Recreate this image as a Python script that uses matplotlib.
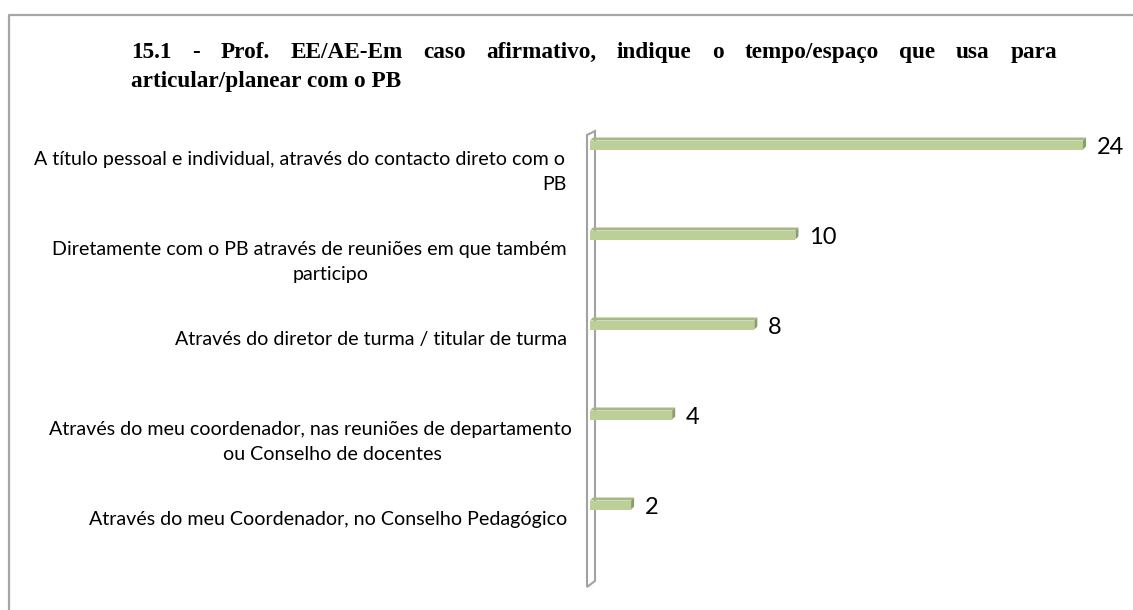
import matplotlib.pyplot as plt
from matplotlib.patches import Polygon
from matplotlib.lines import Line2D

# dados
categorias = [
    ["A título pessoal e individual, através do contacto direto com o", "PB"],
    ["Diretamente com o PB através de reuniões em que também", "participo"],
    ["Através do diretor de turma / titular de turma"],
    ["Através do meu coordenador, nas reuniões de departamento", "ou Conselho de docentes"],
    ["Através do meu Coordenador, no Conselho Pedagógico"],
]
valores = [24, 10, 8, 4, 2]
titulo = ["15.1 - Prof. EE/AE-Em caso afirmativo, indique o tempo/espaço que usa para",
          "articular/planear com o PB"]

W, H = 1133, 610
fig = plt.figure(figsize=(W / 100, H / 100), dpi=100)
fig.patch.set_facecolor("white")
renderer = fig.canvas.get_renderer()

def fx(px):
    return px / W

def fy(py):
    return 1 - py / H

# moldura (so topo e esquerda ficam visiveis)
fig.add_artist(Line2D([fx(9), fx(9), fx(W + 5)], [fy(H + 5), fy(15), fy(15)],
                      transform=fig.transFigure, color="#a6a6a6", lw=1.6))

# eixo: x de 590 a 1083 px, categorias a cada 90 px a partir de 145 px
ax = fig.add_axes([fx(590), fy(586), fx(1083) - fx(590), fy(131) - fy(586)])
vmax = max(valores)
ax.set_xlim(0, vmax)
ax.set_ylim((586 - 145) / 90, (131 - 145) / 90)
ax.axis("off")

px_x = vmax / (1083 - 590)   # unidades de valor por pixel
px_y = 1 / 90                # unidades de categoria por pixel

# parede 3D
parede = Polygon([(-3 * px_x, -10 * px_y), (5 * px_x, -14 * px_y),
                  (5 * px_x, 436 * px_y), (-3 * px_x, 442 * px_y)],
                 closed=True, facecolor="white", edgecolor="#a2a2a2", lw=1.5,
                 clip_on=False, zorder=2)
ax.add_patch(parede)

# barras 3D
pos = list(range(len(valores)))
h = 9 * px_y
dx, dy = 3 * px_x, 3 * px_y
ax.barh(pos, valores, height=h, color="#bccf97", edgecolor="none", zorder=3)
for i, v in zip(pos, valores):
    topo = Polygon([(0, i - h / 2), (v, i - h / 2), (v + dx, i - h / 2 - dy), (dx, i - h / 2 - dy)],
                   closed=True, facecolor="#a6b985", edgecolor="none", zorder=3, clip_on=False)
    lado = Polygon([(v, i - h / 2), (v + dx, i - h / 2 - dy), (v + dx, i + h / 2 - dy), (v, i + h / 2)],
                   closed=True, facecolor="#8c9d6a", edgecolor="none", zorder=3, clip_on=False)
    ax.add_patch(topo)
    ax.add_patch(lado)
    ax.annotate(str(v), xy=(v, i), xytext=(14, -2), textcoords="offset pixels",
                ha="left", va="center", fontsize=17, family="Lato", color="black")

# tamanho da fonte das categorias
ref = fig.text(0, 0, categorias[0][0], fontsize=10, family="Lato")
fs_cat = 10 * 531 / ref.get_window_extent(renderer).width
ref.remove()

centros_l2 = {0: 554, 1: 331, 3: 332}
direita = [565, 567, 567, 572, 567]
for i, linhas in enumerate(categorias):
    ax.annotate(linhas[0], xy=(0, i), xytext=(direita[i] - 590, -14),
                textcoords="offset pixels", ha="right", va="center",
                fontsize=fs_cat, family="Lato", color="black", annotation_clip=False)
    if len(linhas) > 1:
        ax.annotate(linhas[1], xy=(0, i), xytext=(centros_l2[i] - 590, -39),
                    textcoords="offset pixels", ha="center", va="center",
                    fontsize=fs_cat, family="Lato", color="black", annotation_clip=False)

# titulo justificado
tfont = dict(family="Liberation Serif", weight="bold", color="black")
ref = fig.text(0, 0, titulo[1], fontsize=12, **tfont)
fs_tit = 12 * 268 / ref.get_window_extent(renderer).width
ref.remove()

palavras = titulo[0].split(" ")
larguras = []
for p in palavras:
    t = fig.text(0, 0, p, fontsize=fs_tit, **tfont)
    larguras.append(t.get_window_extent(renderer).width)
    t.remove()
esq, dir_ = 131, 1057
gap = (dir_ - esq - sum(larguras)) / (len(palavras) - 1)
x = esq
for p, w in zip(palavras, larguras):
    fig.text(fx(x), fy(58), p, fontsize=fs_tit, va="baseline", ha="left", **tfont)
    x += w + gap
fig.text(fx(131), fy(87), titulo[1], fontsize=fs_tit, va="baseline", ha="left", **tfont)

fig.savefig("out.png", dpi=100, facecolor="white")
